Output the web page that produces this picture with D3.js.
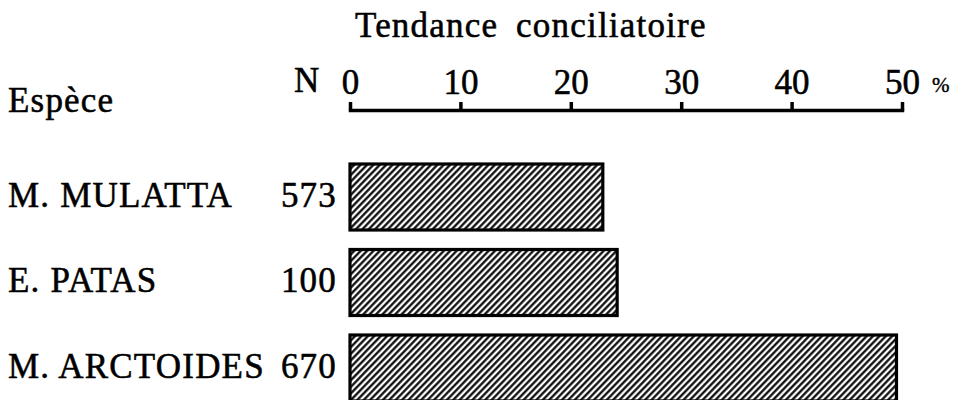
<!DOCTYPE html>
<html lang="fr">
<head>
	<meta charset="utf-8">
	<title>Tendance conciliatoire</title>
	<script src="https://cdn.jsdelivr.net/npm/d3@7"></script>
	<style>
		body { margin: 0; background: #fff; }
		text { font-family: "Liberation Serif", "Times New Roman", serif; fill: #000; stroke: #000; stroke-width: 0.55px; }
		.lab { font-size: 35px; letter-spacing: 1.2px; }
		.axis text { font-size: 35px; }
		.axis path, .axis line { stroke: #000; stroke-width: 3.5; }
		.bar { stroke: #000; stroke-width: 3.2; fill: url(#hatch); }
	</style>
</head>
<body>
	<div id="chart"></div>

	<script>
		// data
		var species = ["M. MULATTA", "E. PATAS", "M. ARCTOIDES"];
		var counts = [573, 100, 670];
		var values = [22.9, 24.2, 49.5];
		var ticks = [0, 10, 20, 30, 40, 50];

		var w = 967,
		    h = 400;

		var svg = d3.select("#chart")
			.append("svg")
			.attr("width", w)
			.attr("height", h);

		// diagonal hatching
		var pat = svg.append("defs").append("pattern")
			.attr("id", "hatch")
			.attr("patternUnits", "userSpaceOnUse")
			.attr("width", 4.6)
			.attr("height", 10)
			.attr("patternTransform", "rotate(44)");
		pat.append("rect").attr("width", 4.6).attr("height", 10).attr("fill", "#fff");
		pat.append("line")
			.attr("x1", 1.3).attr("x2", 1.3)
			.attr("y1", 0).attr("y2", 10)
			.attr("stroke", "#000")
			.attr("stroke-width", 2.2);

		var x = d3.scaleLinear().domain([0, 50]).range([350, 902]);
		var y = d3.scaleBand().domain(species).range([164, 401]).paddingInner(0.228).paddingOuter(0);

		var data = species.map(function(s, i) {
			return {name: s, n: counts[i], v: values[i]};
		});

		// axis
		var axis = svg.append("g")
			.attr("class", "axis")
			.attr("transform", "translate(0,110)")
			.call(d3.axisTop(x).tickValues(ticks).tickSize(8).tickSizeOuter(0).tickPadding(8));
		axis.selectAll("text").attr("fill", "#000");
		axis.select(".domain").attr("stroke-linecap", "square");

		// titles
		svg.append("text").attr("class", "lab")
			.attr("x", 355).attr("y", 37)
			.style("word-spacing", "8px")
			.text("Tendance conciliatoire");
		svg.append("text").attr("class", "lab")
			.attr("x", 8).attr("y", 112)
			.text("Espèce");
		svg.append("text").attr("class", "lab")
			.attr("x", 294).attr("y", 92)
			.text("N");
		svg.append("text")
			.attr("x", 932).attr("y", 92)
			.attr("font-size", "21px")
			.style("stroke-width", "0.4px")
			.text("%");

		// bars
		svg.selectAll(".bar")
			.data(data)
			.enter()
			.append("rect")
			.attr("class", "bar")
			.attr("x", x(0))
			.attr("y", function(d) {return y(d.name);})
			.attr("width", function(d) {return x(d.v) - x(0);})
			.attr("height", y.bandwidth());

		// species names
		svg.selectAll(".sp")
			.data(data)
			.enter()
			.append("text")
			.attr("class", "lab sp")
			.attr("x", 8)
			.attr("y", function(d) {return y(d.name) + 43;})
			.text(function(d) {return d.name;});

		// sample sizes
		svg.selectAll(".nn")
			.data(data)
			.enter()
			.append("text")
			.attr("class", "lab nn")
			.attr("x", 337)
			.attr("y", function(d) {return y(d.name) + 43;})
			.attr("text-anchor", "end")
			.text(function(d) {return d.n;});
	</script>
</body>
</html>
